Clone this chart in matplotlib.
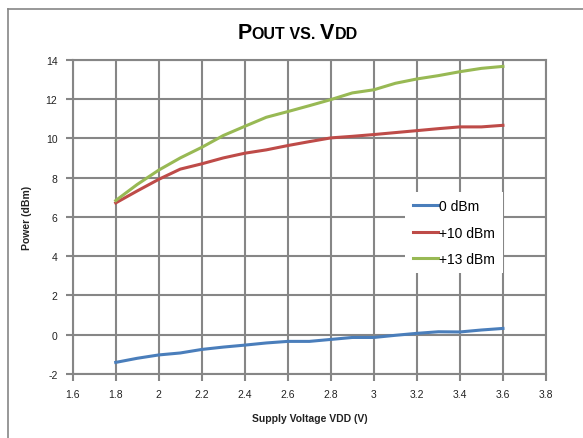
import matplotlib
matplotlib.use("Agg")
import matplotlib.pyplot as plt
from matplotlib.lines import Line2D

plt.rcParams['font.family'] = ['Liberation Sans', 'DejaVu Sans']
plt.rcParams['axes.unicode_minus'] = False

vdd = [1.8, 1.9, 2.0, 2.1, 2.2, 2.3, 2.4, 2.5, 2.6, 2.7, 2.8, 2.9, 3.0, 3.1, 3.2, 3.3, 3.4, 3.5, 3.6]
p_0dbm = [-1.41, -1.2, -1.03, -0.93, -0.75, -0.63, -0.53, -0.42, -0.34, -0.34, -0.24, -0.14, -0.14, -0.03, 0.07, 0.15, 0.14, 0.24, 0.32]
p_10dbm = [6.71, 7.32, 7.91, 8.43, 8.7, 9.0, 9.24, 9.41, 9.63, 9.83, 10.02, 10.1, 10.19, 10.29, 10.39, 10.49, 10.58, 10.58, 10.66]
p_13dbm = [6.83, 7.65, 8.38, 9.0, 9.54, 10.14, 10.61, 11.07, 11.36, 11.66, 11.97, 12.31, 12.47, 12.8, 13.02, 13.19, 13.39, 13.56, 13.66]
series_labels = ['0 dBm', '+10 dBm', '+13 dBm']
series_colors = ['#4A7EBB', '#BE4B48', '#98B954']
x_ticks = [1.6, 1.8, 2.0, 2.2, 2.4, 2.6, 2.8, 3.0, 3.2, 3.4, 3.6, 3.8]
x_tick_labels = ['1.6', '1.8', '2', '2.2', '2.4', '2.6', '2.8', '3', '3.2', '3.4', '3.6', '3.8']
y_ticks = [-2, 0, 2, 4, 6, 8, 10, 12, 14]

fig = plt.figure(figsize=(5.83, 4.39), dpi=100)
ax = fig.add_axes([0.1247, 0.1458, 0.8118, 0.7159])

grid_c = '#868686'
for s, c, lab in zip([p_0dbm, p_10dbm, p_13dbm], series_colors, series_labels):
    ax.plot(vdd, s, color=c, lw=2.2, label=lab, zorder=3, solid_joinstyle='round')

ax.set_xlim(1.6, 3.8)
ax.set_ylim(-2, 14)
ax.set_xticks(x_ticks)
ax.set_xticklabels(x_tick_labels)
ax.set_yticks(y_ticks)
ax.grid(True, color=grid_c, lw=1.5)
ax.set_axisbelow(True)
for sp in ax.spines.values():
    sp.set_color(grid_c)
    sp.set_linewidth(1.5)
ax.tick_params(axis='both', colors=grid_c, length=5, width=1.5, direction='out',
               labelsize=7.5, labelcolor='#222222', pad=6)

ax.set_xlabel('Supply Voltage VDD (V)', fontsize=7.5, fontweight='bold', labelpad=10, color='#222222')
ax.set_ylabel('Power (dBm)', fontsize=7.5, fontweight='bold', labelpad=10, color='#222222')

leg = ax.legend(loc='upper left', bbox_to_anchor=(0.702, 0.58), frameon=True, fontsize=10,
                handlelength=1.8, handletextpad=0.12, labelspacing=0.88, borderpad=0.55,
                borderaxespad=0)
leg.get_frame().set_facecolor('white')
leg.get_frame().set_edgecolor('none')
leg.get_frame().set_alpha(1.0)
leg.get_frame().set_boxstyle('square', pad=0.0)

# title with small caps look
fig.canvas.draw()
renderer = fig.canvas.get_renderer()
pieces = [('P', 15.5), ('OUT', 11.5), (' VS. ', 11.5), ('V', 15.5), ('DD', 11.5)]
texts = []
for s, fs in pieces:
    t = fig.text(0, 0.9105, s, fontsize=fs, fontweight='bold', ha='left', va='baseline', color='black')
    texts.append(t)
widths = [t.get_window_extent(renderer=renderer).width for t in texts]
total = sum(widths)
figw = fig.bbox.width
cur = 297.5 - total / 2
for t, w in zip(texts, widths):
    t.set_x(cur / figw)
    cur += w

# chart area border (left and top)
fig.add_artist(Line2D([7.5 / 583, 7.5 / 583], [0, 1 - 9.5 / 439], transform=fig.transFigure, color='#868686', lw=1.2))
fig.add_artist(Line2D([7.5 / 583, 1], [1 - 9.5 / 439, 1 - 9.5 / 439], transform=fig.transFigure, color='#868686', lw=1.2))

fig.savefig('out.png', dpi=100)
